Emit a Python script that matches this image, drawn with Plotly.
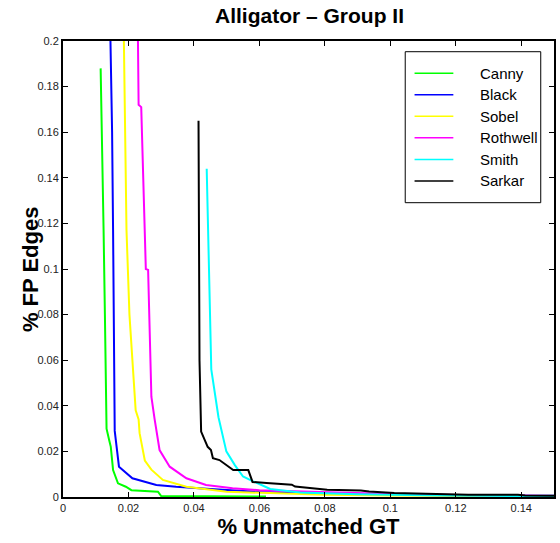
import plotly.graph_objects as go

# Detector curves: fraction of unmatched ground truth vs fraction of false-positive edges
canny_x = [0.0115, 0.0120, 0.0124, 0.0128, 0.0133, 0.0141, 0.0146, 0.0153, 0.0168, 0.0192, 0.0209, 0.0290, 0.0300, 0.0620]
canny_y = [0.188, 0.154, 0.117, 0.080, 0.030, 0.025, 0.022, 0.0118, 0.0060, 0.0045, 0.0030, 0.0023, 0.0004, 0.0002]

black_x = [0.0145, 0.0150, 0.0153, 0.0158, 0.0171, 0.0212, 0.0285, 0.0346, 0.0450, 0.0600, 0.0800, 0.1000, 0.1200, 0.1500]
black_y = [0.200, 0.160, 0.117, 0.029, 0.0133, 0.0082, 0.0053, 0.0045, 0.0035, 0.0022, 0.0015, 0.0010, 0.0007, 0.0005]

sobel_x = [0.0186, 0.0194, 0.0203, 0.0216, 0.0222, 0.0231, 0.0234, 0.0250, 0.0270, 0.0305, 0.0377, 0.0500, 0.0650, 0.0800, 0.1000, 0.1500]
sobel_y = [0.200, 0.117, 0.080, 0.054, 0.038, 0.034, 0.028, 0.016, 0.012, 0.0075, 0.0045, 0.0023, 0.0015, 0.0010, 0.0007, 0.0004]

rothwell_x = [0.0229, 0.0231, 0.0239, 0.0248, 0.0253, 0.0260, 0.0270, 0.0280, 0.0295, 0.0326, 0.0377, 0.0437, 0.0518, 0.0600, 0.0800, 0.1000, 0.1200, 0.1500]
rothwell_y = [0.200, 0.172, 0.171, 0.117, 0.100, 0.0996, 0.044, 0.034, 0.0206, 0.0133, 0.0082, 0.0053, 0.0038, 0.0030, 0.0020, 0.0013, 0.0009, 0.0004]

smith_x = [0.0439, 0.0445, 0.0453, 0.0475, 0.0499, 0.0525, 0.0550, 0.0579, 0.0633, 0.0725, 0.0900, 0.1100, 0.1300, 0.1500]
smith_y = [0.144, 0.100, 0.056, 0.035, 0.0200, 0.0140, 0.0090, 0.0070, 0.0035, 0.0020, 0.0012, 0.0008, 0.0005, 0.0003]

sarkar_x = [0.0414, 0.0415, 0.0417, 0.0422, 0.0432, 0.0442, 0.0452, 0.0458, 0.0478, 0.0494, 0.0514, 0.0520, 0.0566,
            0.0579, 0.0622, 0.0699, 0.0709, 0.0807, 0.0910, 0.0935, 0.1012, 0.1114, 0.1238, 0.1390, 0.1412, 0.1500]
sarkar_y = [0.165, 0.0776, 0.060, 0.0287, 0.0257, 0.022, 0.0206, 0.017, 0.0162, 0.0145, 0.0126, 0.0118, 0.0118,
            0.0066, 0.0061, 0.0054, 0.0046, 0.0032, 0.0029, 0.0024, 0.0018, 0.0015, 0.0010, 0.0010, 0.0007, 0.0006]

series_names = ["Canny", "Black", "Sobel", "Rothwell", "Smith", "Sarkar"]
series_colors = ["#00ff00", "#0000ff", "#ffff00", "#ff00ff", "#00ffff", "#000000"]
series_data = [(canny_x, canny_y), (black_x, black_y), (sobel_x, sobel_y),
               (rothwell_x, rothwell_y), (smith_x, smith_y), (sarkar_x, sarkar_y)]

x_ticks = [0, 0.02, 0.04, 0.06, 0.08, 0.1, 0.12, 0.14]
x_tick_labels = ["0", "0.02", "0.04", "0.06", "0.08", "0.1", "0.12", "0.14"]
y_ticks = [0, 0.02, 0.04, 0.06, 0.08, 0.1, 0.12, 0.14, 0.16, 0.18, 0.2]
y_tick_labels = ["0", "0.02", "0.04", "0.06", "0.08", "0.1", "0.12", "0.14", "0.16", "0.18", "0.2"]

FONT = "Liberation Sans, Arial, sans-serif"

fig = go.Figure()
for name, color, (xs, ys) in zip(series_names, series_colors, series_data):
    fig.add_trace(go.Scatter(x=xs, y=ys, mode="lines", name=name,
                             line=dict(color=color, width=2), showlegend=False))

# Boxed legend in the upper-right corner of the axes
box_left, box_right, box_bottom, box_top = 0.697, 0.973, 0.6454, 0.9765
row_top, row_step = 0.9292, 0.0472
fig.add_shape(type="rect", xref="paper", yref="paper", x0=box_left, x1=box_right,
              y0=box_bottom, y1=box_top, line=dict(color="black", width=1), fillcolor="white", layer="above")
for i, (name, color) in enumerate(zip(series_names, series_colors)):
    yy = row_top - i * row_step
    fig.add_shape(type="line", xref="paper", yref="paper", x0=0.716, x1=0.795, y0=yy, y1=yy,
                  line=dict(color=color, width=1.5), layer="above")
    fig.add_annotation(xref="paper", yref="paper", x=0.8458, y=yy, text=name, showarrow=False,
                       xanchor="left", yanchor="middle", font=dict(family=FONT, size=15, color="black"))

# Y-axis title placed close to the tick labels
fig.add_annotation(xref="paper", yref="paper", x=-0.067, y=0.5, text="<b>% FP Edges</b>",
                   textangle=-90, showarrow=False, xanchor="center", yanchor="middle",
                   font=dict(family=FONT, size=22, color="black"))

axis_common = dict(showline=True, linecolor="black", linewidth=2, mirror="ticks",
                   ticks="inside", ticklen=5, tickwidth=1, tickcolor="black",
                   showgrid=False, zeroline=False,
                   tickfont=dict(family=FONT, size=11, color="#222"))

fig.update_layout(
    width=560, height=543,
    margin=dict(l=63, r=4, t=41, b=46),
    paper_bgcolor="white", plot_bgcolor="white",
    title=dict(text="<b>Alligator – Group II</b>", x=0.5527, xanchor="center",
               y=1 - 8 / 543, yanchor="top", yref="container",
               font=dict(family=FONT, size=21, color="black")),
    xaxis=dict(range=[0, 0.15], tickvals=x_ticks, ticktext=x_tick_labels,
               title=dict(text="<b>% Unmatched GT</b>", standoff=4,
                          font=dict(family=FONT, size=22, color="black")),
               **axis_common),
    yaxis=dict(range=[0, 0.2], tickvals=y_ticks, ticktext=y_tick_labels, **axis_common),
)

fig.write_html("out.html")
